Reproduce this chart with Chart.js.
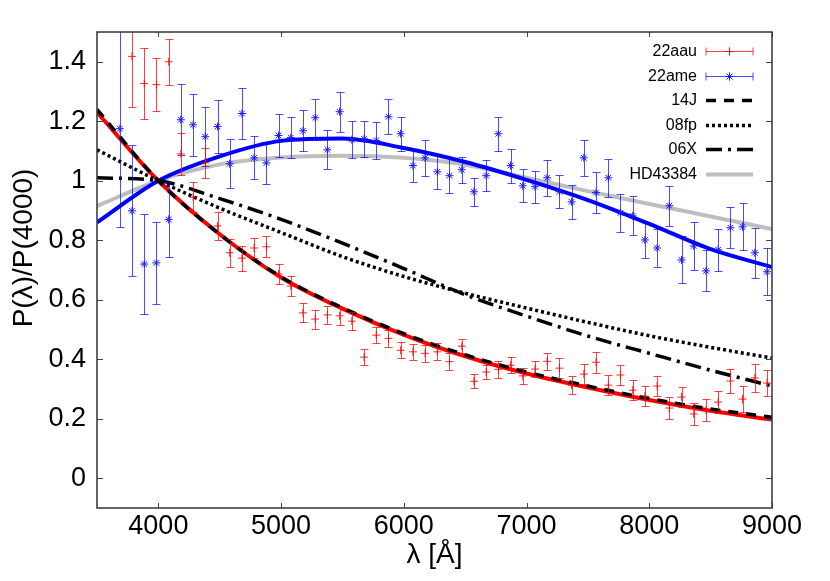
<!DOCTYPE html>
<html>
<head>
<meta charset="utf-8">
<script src="https://cdn.jsdelivr.net/npm/chart.js@4/dist/chart.umd.min.js"></script>
<style>
  html, body { margin: 0; padding: 0; background: #fff; }
  #wrap { width: 830px; height: 581px; }
</style>
</head>
<body>
<div id="wrap"><canvas id="chart"></canvas></div>
<script>
// wavelengths in Angstrom, ratios P(lambda)/P(4000)
const aauLambda = [3785, 3885, 3984, 4084, 4183, 4283, 4382, 4482, 4581, 4681, 4780, 4880, 4979, 5079,
  5178, 5278, 5377, 5477, 5576, 5676, 5775, 5875, 5974, 6074, 6173, 6273, 6372, 6472, 6571, 6671, 6770,
  6870, 6969, 7069, 7168, 7268, 7367, 7467, 7566, 7666, 7765, 7865, 7964, 8064, 8163, 8263, 8362, 8462,
  8561, 8661, 8760, 8860, 8959];
const aauRatio = [1.418, 1.327, 1.323, 1.40, 1.09, 0.945, 1.06, 0.848, 0.758, 0.74, 0.774, 0.778, 0.687,
  0.646, 0.556, 0.535, 0.549, 0.546, 0.528, 0.407, 0.481, 0.47, 0.43, 0.425, 0.42, 0.425, 0.392, 0.444,
  0.326, 0.357, 0.366, 0.38, 0.344, 0.367, 0.393, 0.37, 0.313, 0.35, 0.39, 0.313, 0.347, 0.296, 0.276,
  0.31, 0.236, 0.273, 0.216, 0.229, 0.256, 0.327, 0.266, 0.337, 0.32];
const aauErr = [0.17, 0.12, 0.09, 0.078, 0.07, 0.05, 0.05, 0.047, 0.047, 0.042, 0.034, 0.035, 0.034,
  0.034, 0.032, 0.032, 0.03, 0.03, 0.03, 0.028, 0.028, 0.029, 0.027, 0.027, 0.028, 0.028, 0.028, 0.024,
  0.024, 0.022, 0.028, 0.027, 0.028, 0.026, 0.029, 0.033, 0.03, 0.033, 0.035, 0.033, 0.033, 0.034, 0.034,
  0.034, 0.036, 0.035, 0.038, 0.036, 0.038, 0.039, 0.044, 0.046, 0.045];

const ameLambda = [3686, 3785, 3885, 3984, 4084, 4183, 4283, 4382, 4482, 4581, 4681, 4780, 4880, 4979,
  5079, 5178, 5278, 5377, 5477, 5576, 5676, 5775, 5875, 5974, 6074, 6173, 6273, 6372, 6472, 6571, 6671,
  6770, 6870, 6969, 7069, 7168, 7268, 7367, 7467, 7566, 7666, 7765, 7865, 7964, 8064, 8163, 8263, 8362,
  8462, 8561, 8661, 8760, 8860, 8959];
const ameRatio = [1.175, 0.899, 0.72, 0.724, 0.87, 1.205, 1.188, 1.148, 1.182, 1.057, 1.226, 1.077, 1.06,
  1.152, 1.145, 1.168, 1.212, 1.104, 1.232, 1.138, 1.141, 1.135, 1.215, 1.158, 1.051, 1.077, 1.03, 1.017,
  1.037, 0.963, 1.017, 1.158, 1.051, 0.983, 0.98, 1.01, 0.963, 0.929, 1.077, 0.96, 1.01, 0.892, 0.882,
  0.801, 0.774, 0.916, 0.734, 0.781, 0.697, 0.768, 0.842, 0.845, 0.758, 0.694];
const ameErr = [0.33, 0.22, 0.168, 0.137, 0.125, 0.12, 0.105, 0.10, 0.09, 0.082, 0.086, 0.072, 0.07,
  0.072, 0.07, 0.069, 0.064, 0.066, 0.067, 0.062, 0.06, 0.062, 0.059, 0.057, 0.056, 0.06, 0.059, 0.059,
  0.044, 0.047, 0.052, 0.057, 0.057, 0.055, 0.054, 0.06, 0.056, 0.057, 0.06, 0.069, 0.064, 0.064, 0.066,
  0.062, 0.064, 0.067, 0.079, 0.081, 0.069, 0.071, 0.069, 0.079, 0.084, 0.079];

// model curves
const curveLambda = [3500, 4000, 4500, 5000, 5500, 6000, 6500, 7000, 7500, 8000, 8500, 9000];
const fitAau = [1.23, 1.0, 0.82, 0.675, 0.57, 0.482, 0.41, 0.352, 0.305, 0.263, 0.227, 0.197];
const fitAme = [0.86, 1.0, 1.082, 1.134, 1.142, 1.11, 1.063, 1.003, 0.935, 0.855, 0.77, 0.71];
const curve14J = [1.24, 1.0, 0.82, 0.677, 0.573, 0.486, 0.415, 0.357, 0.31, 0.268, 0.233, 0.205];
const curve08fp = [1.104, 1.0, 0.908, 0.826, 0.745, 0.678, 0.622, 0.572, 0.524, 0.479, 0.44, 0.404];
const curve06X = [1.01, 1.0, 0.94, 0.87, 0.79, 0.705, 0.617, 0.545, 0.478, 0.42, 0.363, 0.31];
const curveHD = [0.915, 1.0, 1.055, 1.078, 1.084, 1.077, 1.054, 1.01, 0.965, 0.922, 0.88, 0.838];

const xTicks = [4000, 5000, 6000, 7000, 8000, 9000];
const yTicks = [0, 0.2, 0.4, 0.6, 0.8, 1.0, 1.2, 1.4];
const legendOrder = ['22aau', '22ame', '14J', '08fp', '06X', 'HD43384'];

const FONT = "'Liberation Sans', Arial, Helvetica, sans-serif";

const toPoints = (xs, ys) => xs.map((x, i) => ({ x: x, y: ys[i] }));

function curve(label, ys, color, width, dash, order) {
  return {
    label: label,
    data: toPoints(curveLambda, ys),
    showLine: true,
    borderColor: color,
    borderWidth: width,
    borderDash: dash,
    borderCapStyle: 'butt',
    pointRadius: 0,
    cubicInterpolationMode: 'monotone',
    order: order
  };
}

// error bars go under the markers of their own dataset
const errorBars = {
  id: 'errorBars',
  beforeDatasetDraw(chart, args) {
    const ds = chart.data.datasets[args.index];
    if (!ds.errors) return;
    const { ctx, chartArea: a, scales: { x, y } } = chart;
    ctx.save();
    ctx.beginPath();
    ctx.rect(a.left, a.top, a.right - a.left, a.bottom - a.top);
    ctx.clip();
    ctx.strokeStyle = ds.barColor;
    ctx.lineWidth = 1;
    ds.data.forEach((p, i) => {
      const px = Math.round(x.getPixelForValue(p.x)) + 0.5;
      const top = Math.round(y.getPixelForValue(p.y + ds.errors[i])) + 0.5;
      const bot = Math.round(y.getPixelForValue(p.y - ds.errors[i])) + 0.5;
      ctx.beginPath();
      ctx.moveTo(px, top); ctx.lineTo(px, bot);
      ctx.moveTo(px - 4, top); ctx.lineTo(px + 4, top);
      ctx.moveTo(px - 4, bot); ctx.lineTo(px + 4, bot);
      ctx.stroke();
    });
    ctx.restore();
  }
};

// gnuplot-like frame, inward ticks, key and y label
const decorations = {
  id: 'decorations',
  afterDraw(chart) {
    const { ctx, chartArea: a, scales: { x, y } } = chart;
    ctx.save();
    ctx.strokeStyle = '#444';
    ctx.lineWidth = 1;
    ctx.beginPath();
    xTicks.forEach(v => {
      const px = Math.round(x.getPixelForValue(v)) + 0.5;
      ctx.moveTo(px, a.bottom); ctx.lineTo(px, a.bottom - 5);
      ctx.moveTo(px, a.top); ctx.lineTo(px, a.top + 5);
    });
    yTicks.forEach(v => {
      const py = Math.round(y.getPixelForValue(v)) + 0.5;
      ctx.moveTo(a.left, py); ctx.lineTo(a.left + 6, py);
      ctx.moveTo(a.right, py); ctx.lineTo(a.right - 6, py);
    });
    ctx.stroke();
    ctx.strokeStyle = '#333';
    ctx.lineWidth = 1.5;
    ctx.strokeRect(a.left, a.top, a.right - a.left, a.bottom - a.top);

    // key
    ctx.font = '16px ' + FONT;
    ctx.textAlign = 'right';
    ctx.textBaseline = 'middle';
    const textRight = a.right - 75;
    const x0 = a.right - 66, x1 = a.right - 19;
    legendOrder.forEach((name, i) => {
      const ds = chart.data.datasets.find(d => d.label === name);
      const ly = Math.round(a.top + 19 + i * 24.6) + 0.5;
      ctx.fillStyle = '#000';
      ctx.fillText(name, textRight, ly);
      ctx.save();
      if (ds.errors) {
        ctx.strokeStyle = ds.barColor;
        ctx.lineWidth = 1;
        ctx.beginPath();
        ctx.moveTo(x0, ly); ctx.lineTo(x1, ly);
        ctx.moveTo(x0, ly - 4); ctx.lineTo(x0, ly + 4);
        ctx.moveTo(x1, ly - 4); ctx.lineTo(x1, ly + 4);
        ctx.stroke();
        Chart.helpers.drawPoint(ctx, {
          pointStyle: ds.pointStyle, radius: ds.pointRadius, borderWidth: 1
        }, (x0 + x1) / 2, ly);
        ctx.strokeStyle = ds.borderColor;
        ctx.stroke();
      } else {
        ctx.strokeStyle = ds.borderColor;
        ctx.lineWidth = ds.borderWidth;
        ctx.lineCap = 'butt';
        ctx.setLineDash(ds.borderDash || []);
        ctx.beginPath();
        ctx.moveTo(x0, ly); ctx.lineTo(x1, ly);
        ctx.stroke();
      }
      ctx.restore();
    });

    // y axis title
    ctx.save();
    ctx.translate(24, 248);
    ctx.rotate(-Math.PI / 2);
    ctx.textAlign = 'center';
    ctx.textBaseline = 'middle';
    ctx.fillStyle = '#000';
    ctx.font = '28px ' + FONT;
    ctx.fillText('P(\u03bb)/P(4000)', 0, 0);
    ctx.restore();
    ctx.restore();
  }
};

new Chart(document.getElementById('chart'), {
  type: 'scatter',
  data: {
    datasets: [
      {
        label: '22aau',
        data: toPoints(aauLambda, aauRatio),
        errors: aauErr,
        barColor: 'rgba(255, 0, 0, 0.75)',
        pointStyle: 'cross',
        pointRadius: 4,
        borderColor: 'rgba(255, 0, 0, 0.85)',
        backgroundColor: '#ff0000',
        borderWidth: 1,
        showLine: false,
        order: 1
      },
      {
        label: '22ame',
        data: toPoints(ameLambda, ameRatio),
        errors: ameErr,
        barColor: 'rgba(0, 0, 255, 0.7)',
        pointStyle: 'star',
        pointRadius: 4,
        borderColor: '#1a1aff',
        backgroundColor: '#1a1aff',
        borderWidth: 1,
        showLine: false,
        order: 2
      },
      curve('14J', curve14J, '#000000', 3.5, [10, 8], 3),
      curve('08fp', curve08fp, '#000000', 3.5, [3, 3], 4),
      curve('06X', curve06X, '#000000', 3.5, [16, 6, 3, 6], 5),
      curve('fit 22aau', fitAau, '#ff0000', 4, [], 6),
      curve('fit 22ame', fitAme, '#0000ff', 4, [], 7),
      curve('HD43384', curveHD, '#bebebe', 4, [], 8)
    ]
  },
  options: {
    responsive: true,
    maintainAspectRatio: false,
    animation: false,
    devicePixelRatio: 1,
    layout: { padding: { top: 32, right: 58, bottom: 0, left: 0 } },
    plugins: {
      legend: { display: false },
      tooltip: { enabled: false }
    },
    scales: {
      x: {
        type: 'linear',
        min: 3500,
        max: 9000,
        afterBuildTicks: s => { s.ticks = xTicks.map(v => ({ value: v })); },
        afterFit: s => { s.height = 73; },
        grid: { display: false, drawTicks: false },
        border: { display: false },
        ticks: {
          color: '#000',
          padding: 2,
          maxRotation: 0,
          font: { family: FONT, size: 27 },
          callback: v => String(v)
        },
        title: {
          display: true,
          text: '\u03bb [\u00c5]',
          color: '#000',
          font: { family: FONT, size: 28 },
          padding: { top: 0, bottom: 9 }
        }
      },
      y: {
        type: 'linear',
        min: -0.1,
        max: 1.5,
        afterBuildTicks: s => { s.ticks = yTicks.map(v => ({ value: v })); },
        afterFit: s => { s.width = 97; },
        grid: { display: false, drawTicks: false },
        border: { display: false },
        ticks: {
          color: '#000',
          padding: 11,
          font: { family: FONT, size: 27 },
          callback: v => String(Math.round(v * 10) / 10)
        }
      }
    }
  },
  plugins: [errorBars, decorations]
});
</script>
</body>
</html>
